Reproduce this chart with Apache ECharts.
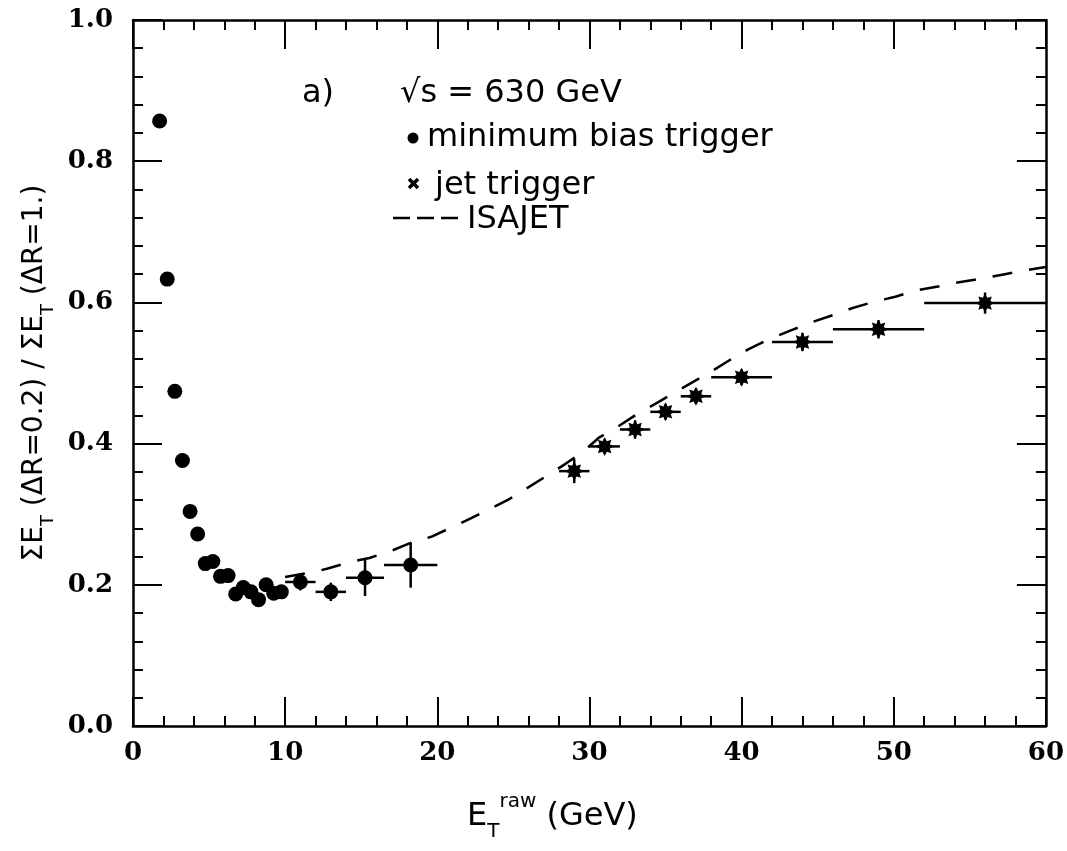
<!DOCTYPE html>
<html>
<head>
<meta charset="utf-8">
<script src="https://cdn.jsdelivr.net/npm/echarts@6.0.0/dist/echarts.min.js"></script>
<style>
  html, body { margin: 0; padding: 0; background: #fff; }
  #chart { width: 1067px; height: 851px; }
</style>
</head>
<body>
<div id="chart"></div>
<script>
// minimum bias trigger, unbinned points
var mbX = [1.75, 2.25, 2.75, 3.25, 3.75, 4.25, 4.75, 5.25, 5.75, 6.25, 6.75, 7.25, 7.75, 8.25, 8.75, 9.25, 9.75];
var mbY = [0.857, 0.633, 0.474, 0.376, 0.304, 0.272, 0.23, 0.233, 0.212, 0.213, 0.187, 0.196, 0.19, 0.179, 0.2, 0.188, 0.19];

// minimum bias trigger, binned points with errors
var mbBinX = [11, 13, 15.25, 18.25];
var mbBinY = [0.204, 0.19, 0.21, 0.228];
var mbBinLo = [10, 12, 14, 16.5];
var mbBinHi = [12, 14, 16.5, 20];
var mbBinErr = [0.012, 0.013, 0.026, 0.032];

// jet trigger
var jetX = [29, 31, 33, 35, 37, 40, 44, 49, 56];
var jetY = [0.361, 0.396, 0.42, 0.445, 0.467, 0.494, 0.544, 0.562, 0.599];
var jetLo = [28, 30, 32, 34, 36, 38, 42, 46, 52];
var jetHi = [30, 32, 34, 36, 38, 42, 46, 52, 60];
var jetErr = [0.017, 0.01, 0.013, 0.011, 0.011, 0.011, 0.013, 0.013, 0.015];

// ISAJET curve
var isaX = [10, 12.05, 12.8, 14.23, 15.54, 16.96, 18.21, 19.6, 20.8, 22.2, 23.4, 24.7, 25.9, 27.1, 28.4, 29.5, 30.6, 31.8, 33, 34.3, 35.5, 36.7, 38, 39.2, 40.4, 41.7, 43.2, 44.5, 46, 47.3, 48.7, 50.1, 51.5, 53, 54.4, 55.9, 57.3, 58.8, 60];
var isaY = [0.211, 0.219, 0.223, 0.232, 0.238, 0.248, 0.259, 0.268, 0.28, 0.294, 0.307, 0.321, 0.337, 0.353, 0.371, 0.387, 0.408, 0.423, 0.44, 0.456, 0.471, 0.486, 0.502, 0.518, 0.533, 0.547, 0.56, 0.571, 0.582, 0.592, 0.601, 0.608, 0.617, 0.623, 0.629, 0.634, 0.64, 0.646, 0.65];

var xTicks = [0, 10, 20, 30, 40, 50, 60];
var yTicks = [0, 0.2, 0.4, 0.6, 0.8, 1.0];

function zip(a, b) {
  return a.map(function (v, i) { return [v, b[i]]; });
}

function errRows(x, y, lo, hi, e) {
  return x.map(function (v, i) { return [v, y[i], lo[i], hi[i], e[i]]; });
}

// star-like marker used for the jet trigger points
function starPath(n, R, r) {
  var d = '';
  for (var i = 0; i < 2 * n; i++) {
    var a = Math.PI * i / n - Math.PI / 2;
    var rad = i % 2 ? r : R;
    d += (i ? 'L' : 'M') + (rad * Math.cos(a)).toFixed(2) + ',' + (rad * Math.sin(a)).toFixed(2);
  }
  return 'path://' + d + 'Z';
}

function renderErr(params, api) {
  var y = api.value(1), e = api.value(4);
  var a = api.coord([api.value(2), y]);
  var b = api.coord([api.value(3), y]);
  var c = api.coord([api.value(0), y - e]);
  var d = api.coord([api.value(0), y + e]);
  var st = { stroke: '#000', lineWidth: 2.5 };
  return {
    type: 'group',
    children: [
      { type: 'line', shape: { x1: a[0], y1: a[1], x2: b[0], y2: b[1] }, style: st },
      { type: 'line', shape: { x1: c[0], y1: c[1], x2: d[0], y2: d[1] }, style: st }
    ]
  };
}

var labelFont = { color: '#000', fontFamily: 'DejaVu Serif', fontWeight: 'bold', fontSize: 26 };
var titleFont = 'DejaVu Sans';

function makeAxis(dim, pos, showLabel, extra) {
  var ax = {
    type: 'value',
    position: pos,
    min: 0,
    max: dim === 'x' ? 60 : 1,
    interval: dim === 'x' ? 10 : 0.2,
    axisLine: { show: true, onZero: false, lineStyle: { color: '#000', width: 2.5 } },
    axisTick: { show: true, inside: true, length: 29, lineStyle: { color: '#000', width: 2 } },
    minorTick: { show: true, splitNumber: 5, length: 10, lineStyle: { color: '#000', width: 2 } },
    splitLine: { show: false },
    axisLabel: { show: showLabel }
  };
  for (var k in extra) ax[k] = extra[k];
  return ax;
}

var chart = echarts.init(document.getElementById('chart'));

chart.setOption({
  backgroundColor: '#fff',
  animation: false,
  grid: { left: 133, right: 19, top: 20, bottom: 125 },
  xAxis: [
    makeAxis('x', 'bottom', true, {
      axisLabel: Object.assign({ margin: 14, formatter: function (v) { return xTicks.indexOf(v) >= 0 ? String(v) : ''; } }, labelFont),
      name: '{n|E}{s|T}{p|raw}{n| (GeV)}',
      nameLocation: 'middle',
      nameGap: 66,
      nameTextStyle: {
        padding: [0, 74, 0, 0],
        rich: {
          n: { fontFamily: titleFont, fontSize: 32, lineHeight: 50, color: '#000' },
          s: { fontFamily: titleFont, fontSize: 20, verticalAlign: 'bottom', lineHeight: 20, color: '#000' },
          p: { fontFamily: titleFont, fontSize: 20, verticalAlign: 'top', lineHeight: 20, color: '#000' }
        }
      }
    }),
    makeAxis('x', 'top', false, {})
  ],
  yAxis: [
    makeAxis('y', 'left', true, {
      axisLabel: Object.assign({ margin: 20, formatter: function (v) { return v.toFixed(1); } }, labelFont),
      name: '{n|ΣE}{s|T}{n| (ΔR=0.2) / ΣE}{s|T}{n| (ΔR=1.)}',
      nameLocation: 'middle',
      nameRotate: 90,
      nameGap: 58,
      nameTextStyle: {
        rich: {
          n: { fontFamily: titleFont, fontSize: 28, lineHeight: 44, color: '#000' },
          s: { fontFamily: titleFont, fontSize: 18, verticalAlign: 'bottom', lineHeight: 18, color: '#000' }
        }
      }
    }),
    makeAxis('y', 'right', false, {})
  ],
  graphic: [
    { type: 'text', left: 302, top: 78, style: { text: 'a)', font: '32px "DejaVu Sans"', fill: '#000' } },
    { type: 'text', left: 400, top: 78, style: { text: '√s = 630 GeV', font: '32px "DejaVu Sans"', fill: '#000' } },
    { type: 'circle', shape: { cx: 413, cy: 138, r: 5.5 }, style: { fill: '#000' } },
    { type: 'text', left: 427, top: 122, style: { text: 'minimum bias trigger', font: '32px "DejaVu Sans"', fill: '#000' } },
    { type: 'line', shape: { x1: 409, y1: 179, x2: 418, y2: 188 }, style: { stroke: '#000', lineWidth: 3.5 } },
    { type: 'line', shape: { x1: 409, y1: 188, x2: 418, y2: 179 }, style: { stroke: '#000', lineWidth: 3.5 } },
    { type: 'text', left: 435, top: 170, style: { text: 'jet trigger', font: '32px "DejaVu Sans"', fill: '#000' } },
    { type: 'line', shape: { x1: 393, y1: 218, x2: 462, y2: 218 }, style: { stroke: '#000', lineWidth: 2.5, lineDash: [17, 7] } },
    { type: 'text', left: 467, top: 204, style: { text: 'ISAJET', font: '32px "DejaVu Sans"', fill: '#000' } }
  ],
  series: [
    {
      name: 'ISAJET',
      type: 'line',
      data: zip(isaX, isaY),
      symbol: 'none',
      lineStyle: { color: '#000', width: 2.5, type: [20, 17] },
      z: 2
    },
    {
      name: 'minimum bias trigger errors',
      type: 'custom',
      renderItem: renderErr,
      data: errRows(mbBinX, mbBinY, mbBinLo, mbBinHi, mbBinErr),
      encode: { x: [0, 2, 3], y: [1] },
      z: 3
    },
    {
      name: 'jet trigger errors',
      type: 'custom',
      renderItem: renderErr,
      data: errRows(jetX, jetY, jetLo, jetHi, jetErr),
      encode: { x: [0, 2, 3], y: [1] },
      z: 3
    },
    {
      name: 'minimum bias trigger',
      type: 'scatter',
      data: zip(mbX, mbY).concat(zip(mbBinX, mbBinY)),
      symbol: 'circle',
      symbolSize: 15,
      itemStyle: { color: '#000', opacity: 1 },
      z: 4
    },
    {
      name: 'jet trigger',
      type: 'scatter',
      data: zip(jetX, jetY),
      symbol: starPath(8, 10, 6),
      symbolSize: 19,
      itemStyle: { color: '#000', opacity: 1 },
      z: 4
    }
  ]
});
</script>
</body>
</html>
